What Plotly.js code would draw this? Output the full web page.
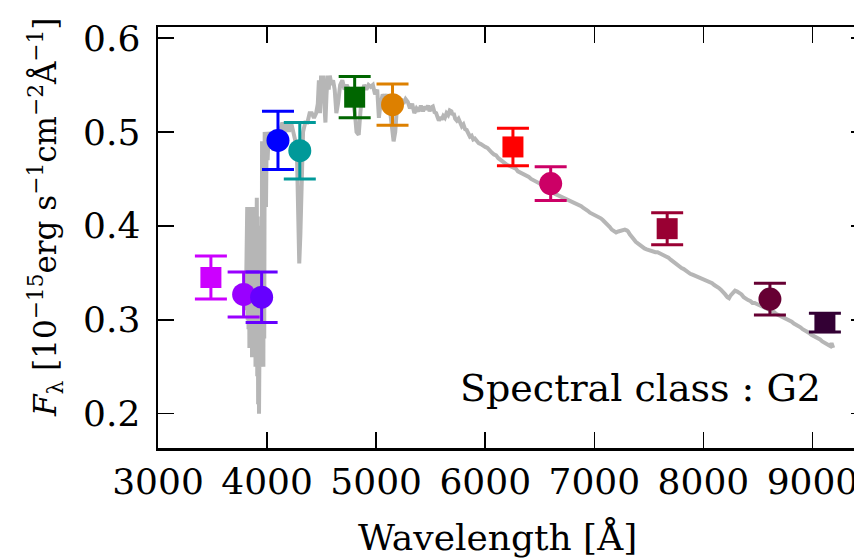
<!DOCTYPE html>
<html>
<head>
<meta charset="utf-8">
<script src="https://cdn.plot.ly/plotly-3.0.1.min.js"></script>
<style>
html, body { margin: 0; padding: 0; overflow: hidden; background: #fff; }
#chart { width: 880px; height: 558px; }
</style>
</head>
<body>
<div id="chart"></div>
<script>
// Photometric points (J-PLUS filters)
const filters = ['uJAVA','J0378','J0395','J0410','J0430','gSDSS','J0515','rSDSS','J0660','iSDSS','J0861','zSDSS'];
const filterWave = [3485, 3785, 3950, 4100, 4300, 4803, 5150, 6254, 6600, 7668, 8610, 9114];
const filterFlux = [0.345, 0.327, 0.324, 0.491, 0.480, 0.537, 0.529, 0.484, 0.445, 0.397, 0.322, 0.297];
const filterErr  = [0.023, 0.024, 0.027, 0.031, 0.030, 0.022, 0.022, 0.020, 0.018, 0.017, 0.017, 0.010];
const filterColor = ['#CC00FF','#9900FF','#6600FF','#0000FF','#009999','#006600','#DD8000','#FF0000','#CC0066','#990033','#660033','#330034'];
const filterSymbol = ['square','circle','circle','circle','circle','square','circle','square','circle','square','circle','square'];

// Template spectrum
const specWave = [3805,3810,3814,3818,3822,3826,3830,3834,3838,3842,3846,3850,3854,3858,3862,3866,3870,3874,3878,3882,3886,3890,3894,3898,3902,3906,3910,3914,3918,3922,3926,3930,3934,3938,3942,3946,3950,3954,3958,3962,3966,3970,3974,3978,3982,3986,3990,3996,
4005,4015,4030,4045,4060,4080,4100,4120,4140,4160,4180,4200,4220,4240,4260,4275,4285,4295,4305,4315,4330,4350,4370,4390,4410,4430,4450,4465,4475,4485,4495,4505,4515,4525,4535,4545,4555,4565,4575,4590,4605,4620,4635,4650,4670,4690,4710,4730,4750,4770,4790,4805,4820,4840,4855,4870,4890,4910,4930,4950,4970,4990,
5010,5025,5040,5060,5080,5100,5120,5140,5160,5175,5190,5210,5230,5250,5270,5290,5310,5330,5350,5370,5390,5410,5430,5445,5460,5475,5490,5505,5520,5535,5550,5565,5575,5590,5600,5615,5630,5645,5660,5675,5690,5700,5710,5725,5740,5755,5770,5785,5800,5815,5830,5845,5860,5875,5890,5905,5920,5940,5960,5980,
6000,6020,6040,6060,6080,6100,6120,6140,6160,6180,6200,6220,6240,6260,6280,6300,6320,6340,6360,6380,6400,6420,6440,6460,6480,6500,6520,6540,6560,6580,6600,6620,6640,6660,6680,6700,6720,6740,6760,6780,6800,6820,6840,6860,6880,6900,6920,6940,6960,6980,
7000,7020,7040,7060,7080,7100,7120,7140,7160,7180,7200,7220,7240,7260,7280,7300,7310,7325,7340,7360,7380,7400,7420,7440,7460,7480,7500,7520,7540,7560,7580,7600,7620,7640,7660,7680,7700,7720,7740,7760,7780,7800,7820,7840,7860,7880,7900,7920,7940,7960,7980,
8000,8020,8040,8060,8080,8100,8120,8140,8160,8180,8200,8220,8235,8250,8270,8290,8310,8330,8350,8370,8390,8410,8430,8450,8470,8490,8510,8530,8550,8570,8590,8610,8630,8650,8670,8690,8710,8730,8750,8770,8790,8810,8830,8850,8870,8890,8910,8930,8950,8970,8990,
9010,9030,9050,9070,9090,9110,9130,9150,9165,9175,9190];
const specFlux = [0.31,0.40,0.33,0.42,0.30,0.41,0.29,0.40,0.27,0.42,0.31,0.40,0.28,0.42,0.26,0.41,0.33,0.42,0.30,0.41,0.29,0.42,0.25,0.40,0.27,0.43,0.24,0.41,0.21,0.38,0.20,0.34,0.22,0.40,0.26,0.46,0.25,0.49,0.30,0.48,0.25,0.49,0.28,0.50,0.35,0.49,0.42,0.49,
0.47,0.50,0.49,0.50,0.48,0.50,0.49,0.50,0.51,0.50,0.51,0.50,0.51,0.50,0.49,0.47,0.40,0.36,0.39,0.45,0.50,0.51,0.51,0.52,0.52,0.515,0.52,0.53,0.555,0.52,0.56,0.54,0.56,0.53,0.51,0.54,0.56,0.545,0.56,0.55,0.555,0.545,0.52,0.53,0.55,0.555,0.545,0.55,0.545,0.54,0.53,0.52,0.50,0.497,0.52,0.54,0.55,0.545,0.55,0.548,0.55,0.54,
0.545,0.515,0.53,0.54,0.535,0.54,0.53,0.51,0.49,0.50,0.525,0.53,0.535,0.53,0.535,0.532,0.525,0.53,0.52,0.525,0.522,0.528,0.522,0.527,0.524,0.528,0.522,0.526,0.527,0.521,0.52,0.515,0.512,0.516,0.513,0.517,0.515,0.52,0.518,0.523,0.522,0.518,0.52,0.514,0.512,0.514,0.51,0.506,0.508,0.503,0.502,0.497,0.495,0.496,0.492,0.493,0.49,0.488,0.487,0.485,
0.484,0.483,0.48,0.478,0.476,0.475,0.472,0.47,0.468,0.466,0.465,0.464,0.463,0.462,0.461,0.458,0.457,0.456,0.454,0.453,0.452,0.45,0.449,0.447,0.446,0.445,0.443,0.44,0.438,0.439,0.437,0.435,0.434,0.433,0.432,0.431,0.430,0.429,0.428,0.426,0.425,0.424,0.423,0.422,0.421,0.419,0.418,0.416,0.414,0.413,
0.412,0.411,0.410,0.408,0.406,0.404,0.401,0.399,0.396,0.394,0.393,0.394,0.395,0.396,0.396,0.395,0.394,0.391,0.388,0.386,0.383,0.381,0.379,0.377,0.376,0.375,0.374,0.373,0.373,0.372,0.372,0.371,0.370,0.368,0.367,0.366,0.364,0.362,0.360,0.358,0.356,0.355,0.354,0.352,0.351,0.349,0.348,0.347,0.346,0.346,0.345,
0.344,0.343,0.342,0.340,0.339,0.337,0.336,0.334,0.332,0.330,0.327,0.324,0.323,0.326,0.329,0.331,0.330,0.329,0.327,0.324,0.322,0.321,0.320,0.318,0.318,0.317,0.316,0.315,0.313,0.312,0.311,0.310,0.309,0.308,0.306,0.305,0.304,0.303,0.302,0.301,0.299,0.298,0.296,0.295,0.294,0.292,0.290,0.289,0.287,0.286,0.284,
0.283,0.281,0.280,0.279,0.277,0.276,0.275,0.273,0.272,0.275,0.270];

// Axis ticks
const xTicks = [3000, 4000, 5000, 6000, 7000, 8000, 9000];
const yTicks = [0.2, 0.3, 0.4, 0.5, 0.6];
const yTickText = ['0.2', '0.3', '0.4', '0.5', '0.6'];
const classLabel = 'Spectral class : G2';
const xTitle = 'Wavelength [Å]';
const yTitle = '<i>F</i><sub>λ</sub> [10<sup>−15</sup>erg s<sup>−1</sup>cm<sup>−2</sup>Å<sup>−1</sup>]';

const FONT = "DejaVu Serif";

const traces = [{
  x: specWave, y: specFlux, type: 'scatter', mode: 'lines',
  line: { color: '#b6b6b6', width: 4 }, hoverinfo: 'skip', showlegend: false
}];
for (let i = 0; i < filters.length; i++) {
  traces.push({
    x: [filterWave[i]], y: [filterFlux[i]], name: filters[i],
    type: 'scatter', mode: 'markers', showlegend: false,
    marker: { color: filterColor[i], symbol: filterSymbol[i], size: filterSymbol[i] === 'square' ? 21 : 23 },
    error_y: { type: 'data', array: [filterErr[i]], color: filterColor[i], thickness: 3, width: 16 }
  });
}

const axisCommon = {
  showline: true, linecolor: '#000', linewidth: 2.5, mirror: 'ticks',
  ticks: 'inside', ticklen: 16, tickwidth: 1.5, tickcolor: '#000',
  showgrid: false, zeroline: false,
  tickfont: { family: FONT, size: 36, color: '#000' }
};

const layout = {
  width: 880, height: 558,
  margin: { l: 158, r: 13, t: 27, b: 110 },
  paper_bgcolor: '#fff', plot_bgcolor: '#fff',
  xaxis: Object.assign({}, axisCommon, {
    range: [3000, 9500], tickvals: xTicks, ticktext: xTicks.map(String),
    ticklabelstandoff: 0
  }),
  yaxis: Object.assign({}, axisCommon, {
    range: [0.1635, 0.6117], tickvals: yTicks, ticktext: yTickText,
    ticklabelstandoff: 8
  }),
  annotations: [{
    x: 7428, y: 0.2277, xref: 'x', yref: 'y', text: classLabel, showarrow: false,
    xanchor: 'center', yanchor: 'middle',
    font: { family: FONT, size: 38, color: '#000' }
  }, {
    x: (497 - 158) / 709, y: (448 - 537) / 421, xref: 'paper', yref: 'paper',
    text: xTitle, showarrow: false, xanchor: 'center', yanchor: 'middle',
    font: { family: FONT, size: 36, color: '#000' }
  }, {
    x: (46 - 158) / 709, y: (448 - 218) / 421, xref: 'paper', yref: 'paper',
    text: yTitle, showarrow: false, textangle: -90, xanchor: 'center', yanchor: 'middle',
    font: { family: FONT, size: 31, color: '#000' }
  }]
};

Plotly.newPlot('chart', traces, layout, { displayModeBar: false, staticPlot: true });
</script>
</body>
</html>
